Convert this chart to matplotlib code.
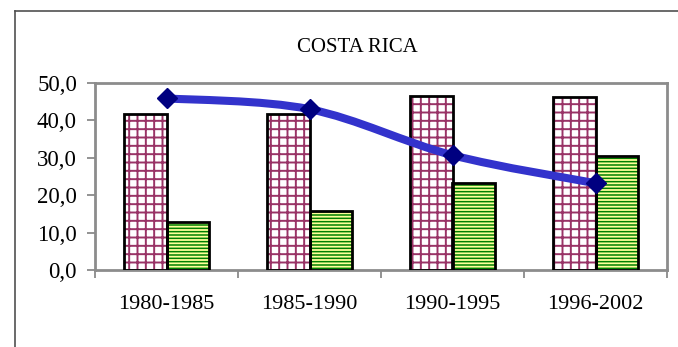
import numpy as np
import matplotlib
matplotlib.use('Agg')
import matplotlib.pyplot as plt
from matplotlib.path import Path
from matplotlib.patches import PathPatch
from matplotlib.lines import Line2D

periods = ['1980-1985', '1985-1990', '1990-1995', '1996-2002']
serie_a = [41.6, 41.6, 46.6, 46.3]     # barras cuadriculadas
serie_b = [12.9, 15.8, 23.2, 30.6]     # barras rayadas verdes
linea = [45.9, 43.0, 30.7, 23.2]       # curva azul
y_ticks = [0, 10, 20, 30, 40, 50]

plt.rcParams['font.family'] = ['Liberation Serif', 'DejaVu Serif']


def smooth_path(xs, ys):
    """Curva suavizada (tipo Excel) con segmentos Bezier entre los puntos."""
    pts = np.column_stack([xs, ys])
    ext = np.vstack([pts[0], pts, pts[-1]])
    verts = [pts[0]]
    codes = [Path.MOVETO]
    for k in range(len(pts) - 1):
        p0, p1, p2, p3 = ext[k], ext[k + 1], ext[k + 2], ext[k + 3]
        verts += [p1 + (p2 - p0) / 6, p2 - (p3 - p1) / 6, p2]
        codes += [Path.CURVE4] * 3
    return Path(verts, codes)


def main():
    fig = plt.figure(figsize=(6.78, 3.47), dpi=100)
    W, H = 678, 347
    ax = fig.add_axes([95 / W, (H - 270) / H, 572 / W, 187 / H])

    x = np.arange(len(periods))
    w = 0.294

    # cuadricula granate
    with plt.rc_context({'hatch.linewidth': 1.4}):
        ax.bar(x - w / 2, serie_a, w, color='white', edgecolor='#993366',
               hatch='++', linewidth=0, zorder=2)
    ax.bar(x - w / 2, serie_a, w, fill=False, edgecolor='black',
           linewidth=2, zorder=3)

    # rayas verdes
    with plt.rc_context({'hatch.linewidth': 1.1}):
        ax.bar(x + w / 2, serie_b, w, color='#FFFF99', edgecolor='#008000',
               hatch='-----', linewidth=0, zorder=2)
    ax.bar(x + w / 2, serie_b, w, fill=False, edgecolor='black',
           linewidth=2, zorder=3)

    ax.add_patch(PathPatch(smooth_path(x, linea), fill=False,
                           edgecolor='#3333CC', linewidth=5.8,
                           capstyle='butt', zorder=4))
    ax.plot(x, linea, linestyle='none', marker='D', markersize=10,
            color='#000080', zorder=5)

    ax.set_xlim(-0.5, len(periods) - 0.5)
    ax.set_ylim(0, 50)
    ax.set_yticks(y_ticks)
    ax.set_yticklabels([f'{v:.1f}'.replace('.', ',') for v in y_ticks],
                       fontsize=16.5)
    ax.set_xticks(np.arange(len(periods) + 1) - 0.5)
    ax.set_xticklabels([])
    ax.set_xticks(x, minor=True)
    ax.set_xticklabels(periods, minor=True, fontsize=16)
    ax.tick_params(axis='x', which='minor', length=0, pad=18)
    ax.tick_params(axis='x', which='major', length=6, color='#808080',
                   width=1.2)
    ax.tick_params(axis='y', length=6, color='#808080', width=1.2, pad=7)

    for side in ['top', 'right', 'left', 'bottom']:
        ax.spines[side].set_color('#8c8c8c')
        ax.spines[side].set_linewidth(2)

    fig.text(357 / W, 1 - 47 / H, 'COSTA RICA', ha='center', va='center',
             fontsize=15)

    # marco exterior del gráfico
    fig.add_artist(Line2D([15 / W, 15 / W], [0, 1 - 11 / H],
                          color='#505050', linewidth=1.2))
    fig.add_artist(Line2D([15 / W, 1], [1 - 11 / H, 1 - 11 / H],
                          color='#505050', linewidth=1.2))

    fig.savefig('out.png', dpi=100)
    plt.close(fig)


if __name__ == '__main__':
    main()
